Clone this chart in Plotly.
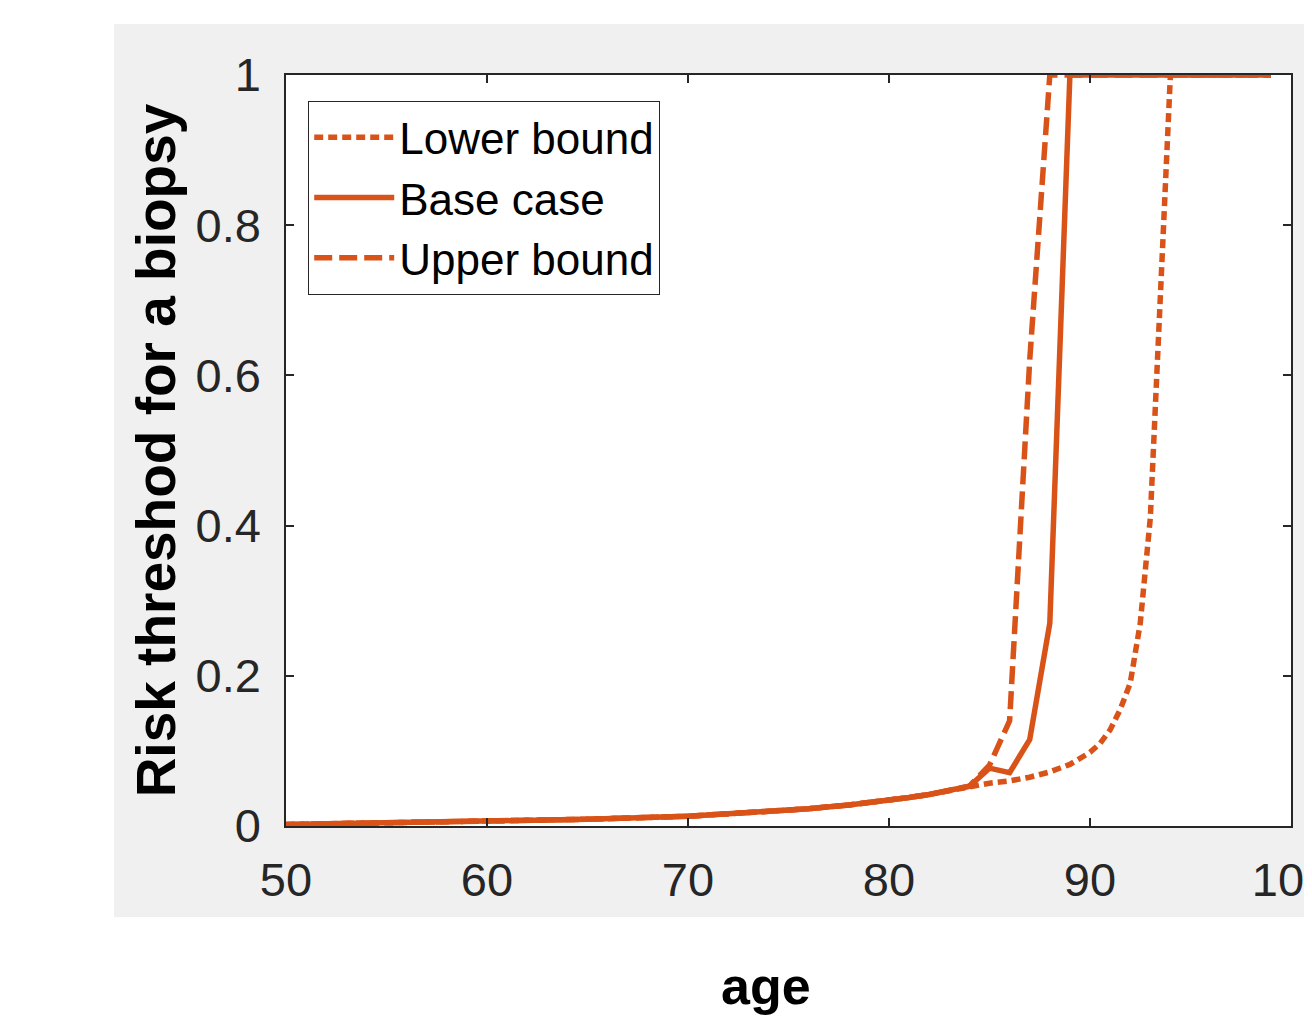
import plotly.graph_objects as go

# ---- data ----
low_ages = [50, 55, 60, 65, 70, 72, 74, 76, 78, 80, 81, 82, 83, 84]
low_common = [0.002, 0.004, 0.006, 0.009, 0.013, 0.016, 0.019, 0.023, 0.028, 0.034, 0.038, 0.042, 0.047, 0.053]

lower_ages = low_ages + [85, 86, 87, 88, 89, 90, 90.5, 91, 91.5, 92, 92.5, 93, 93.5, 94, 99]
lower_vals = low_common + [0.057, 0.060, 0.065, 0.072, 0.082, 0.098, 0.110, 0.128, 0.155, 0.190, 0.270, 0.410, 0.700, 1.0, 1.0]

base_ages = low_ages + [85, 86, 87, 88, 89, 99]
base_vals = low_common + [0.077, 0.071, 0.115, 0.270, 1.0, 1.0]

upper_ages = low_ages + [85, 86, 87, 88, 99]
upper_vals = low_common + [0.081, 0.140, 0.620, 1.0, 1.0]

series_names = ["Lower bound", "Base case", "Upper bound"]
x_ticks = [50, 60, 70, 80, 90, 100]
y_ticks = [0, 0.2, 0.4, 0.6, 0.8, 1]
y_tick_text = ["0", "0.2", "0.4", "0.6", "0.8", "1"]

COLOR = "#D95319"
AXC = "#262626"
FONT = "Liberation Sans, Arial, Helvetica, sans-serif"

fig = go.Figure()
fig.add_trace(go.Scatter(x=lower_ages, y=lower_vals, mode="lines", name=series_names[0],
                         line=dict(color=COLOR, width=5.5, dash="9px,5px")))
fig.add_trace(go.Scatter(x=base_ages, y=base_vals, mode="lines", name=series_names[1],
                         line=dict(color=COLOR, width=5.5)))
fig.add_trace(go.Scatter(x=upper_ages, y=upper_vals, mode="lines", name=series_names[2],
                         line=dict(color=COLOR, width=5.5, dash="18px,7px")))

# page body has an 8px margin, so the figure starts at (8, 8) in the window
OFF = 8
W, H = 1312 - OFF, 1017 - OFF
L, R, T, B = 286 - OFF, 1312 - 1291, 75 - OFF, 1017 - 826
pw = W - L - R
ph = H - T - B

def px_x(p):
    return (p - OFF - L) / pw

def px_y(p):
    return (H - B - (p - OFF)) / ph

fig.update_layout(
    width=W, height=H,
    margin=dict(l=L, r=R, t=T, b=B, pad=0, autoexpand=False),
    paper_bgcolor="white",
    plot_bgcolor="rgba(0,0,0,0)",
    font=dict(family=FONT, color=AXC),
    showlegend=True,
    legend=dict(
        x=px_x(308), y=px_y(101), xanchor="left", yanchor="top",
        bgcolor="white", bordercolor=AXC, borderwidth=1.2,
        font=dict(size=44, color="black", family=FONT),
        itemwidth=80, tracegroupgap=0,
    ),
    shapes=[
        dict(type="rect", xref="paper", yref="paper", layer="below",
             x0=px_x(114), x1=px_x(1400), y0=px_y(917), y1=px_y(24),
             fillcolor="#F0F0F0", line=dict(width=0)),
        dict(type="rect", xref="paper", yref="paper", layer="below",
             x0=0, x1=1, y0=0, y1=1, fillcolor="white", line=dict(width=0)),
    ],
    annotations=[
        dict(text="<b>age</b>", xref="paper", yref="paper",
             x=px_x(766), y=px_y(1016), xanchor="center", yanchor="bottom",
             showarrow=False, borderpad=0,
             font=dict(size=52, color="black", family=FONT)),
    ],
)

fig.update_xaxes(
    range=[50, 100], tickvals=x_ticks, ticktext=[str(v) for v in x_ticks],
    showgrid=False, zeroline=False, automargin=False,
    showline=True, linecolor=AXC, linewidth=1.5, mirror="ticks",
    ticks="inside", ticklen=8, tickwidth=1.5, tickcolor=AXC,
    tickfont=dict(size=47, color=AXC, family=FONT),
    ticklabelstandoff=12, ticklabeloverflow="allow",
)
fig.update_yaxes(
    range=[0, 1], tickvals=y_ticks, ticktext=y_tick_text,
    showgrid=False, zeroline=False, automargin=False,
    showline=True, linecolor=AXC, linewidth=1.5, mirror="ticks",
    ticks="inside", ticklen=8, tickwidth=1.5, tickcolor=AXC,
    tickfont=dict(size=47, color=AXC, family=FONT),
    ticklabelstandoff=14,
    title=dict(text="<b>Risk threshod for a biopsy</b>", standoff=2,
               font=dict(size=55, color="black", family=FONT)),
)

fig.write_html("out.html")
